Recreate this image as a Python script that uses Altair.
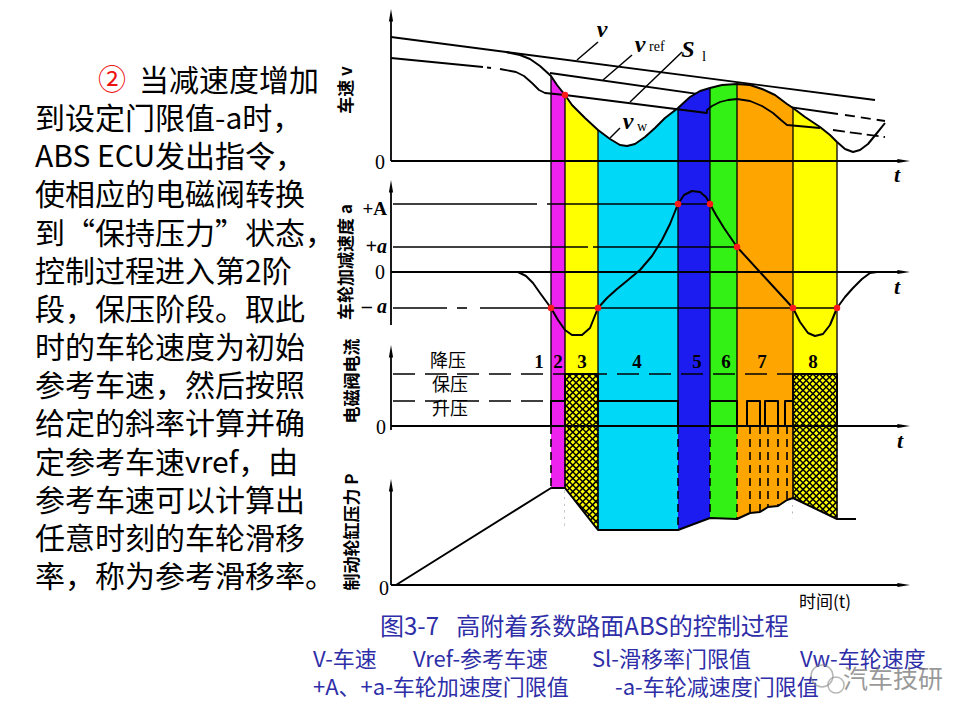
import altair as alt
import pandas as pd

# ---------------- data: time t (ms from the axis origin), values in panel units ----------------
BAND_EDGES = [160, 174, 207, 287, 319, 346, 402, 446]
BAND_COLORS = ["#ee22ee", "#ffff00", "#00d8f8", "#1c1cf0", "#33f015", "#ffa500", "#ffff00"]
BAND_NAMES = ["1", "2", "3", "4", "5", "6", "7", "8"]
BAND_NAME_T = [148, 167, 191, 246, 306, 335, 371, 422]
HATCH_BANDS = [(174, 207), (402, 446)]

# speed panel
V_T = [0, 484]
V_VAL = [124, 61]
VREF_T = [159, 447]
VREF_VAL = [88, 47]
VREF_TAIL_T = [454, 494]
VREF_TAIL_VAL = [46, 40]
VW_T = [115, 129, 139, 149, 160, 166, 174, 181, 194, 207, 219, 229, 236, 244, 254, 264, 274, 287, 299, 309,
        319, 331, 346, 359, 371, 384, 396, 402, 414, 429, 439, 446, 454, 462, 469, 477, 486, 494]
VW_VAL = [109, 106, 102, 95, 85, 76, 66, 56, 43, 31, 22, 16, 15, 17, 24, 33, 43, 53, 64, 70,
          73, 76, 77, 76, 72, 66, 57, 53, 44, 34, 26, 19, 12, 9, 11, 17, 28, 38]
S1_A_T = [0, 92]
S1_A_VAL = [103, 94]
S1_DOT_T = [96, 100]
S1_DOT_VAL = [93.5, 93]
S1_T = [109, 125, 133, 141, 148, 154, 174, 316, 316, 321, 329, 337, 346, 359, 371, 382, 390, 396, 429]
S1_VAL = [92, 89, 85, 78, 71, 68, 66, 48, 51, 55, 59, 61, 62, 60, 55, 48, 41, 36, 33]
S1_TAIL_T = [442, 494]
S1_TAIL_VAL = [31, 24]
SPEED_DOT_T = [174]
SPEED_DOT_VAL = [66]

# acceleration panel
ACC_T = [127, 135, 142, 149, 160, 167, 174, 181, 191, 199, 207, 216, 226, 237, 249, 261, 271, 279, 287, 293,
         301, 309, 315, 319, 325, 333, 346, 402, 409, 417, 424, 432, 439, 446, 454, 462, 471, 479, 486]
ACC_VAL = [0, -4, -11, -21, -36, -48, -58, -63, -63, -56, -36, -26, -17, -8, 2, 16, 32, 48, 68, 77,
           81, 80, 75, 68, 57, 44, 25, -36, -50, -61, -64, -62, -53, -36, -25, -16, -7, -1, 0]
ACC_DOT_T = [160, 207, 287, 319, 346, 402, 446]
ACC_DOT_VAL = [-36, -36, 68, 68, 25, -36, -36]
ACC_LEVELS = [68, 25, -36]
ACC_LEVEL_SEGS = [[(2, 146), (156, 319)], [(2, 197), (202, 346)], [(2, 56), (66, 76), (89, 446)]]

# valve current panel
CUR_REDUCE, CUR_HOLD = 52, 25
CUR_T = [160, 160, 174, 174, 207, 207, 287, 287, 319, 319, 346, 346, 356, 356, 369, 369, 374, 374,
         387, 387, 394, 394, 402, 402, 446, 446]
CUR_VAL = [0, 25, 25, 52, 52, 25, 25, 0, 0, 25, 25, 0, 0, 25, 25, 0, 0, 25,
           25, 0, 0, 25, 25, 52, 52, 0]

# brake pressure panel
P_T = [5, 160, 174, 207, 287, 319, 346, 359, 369, 377, 387, 396, 402, 446, 465]
P_VAL = [0, 97, 97, 55, 55, 67, 66, 72, 73, 78, 79, 85, 87, 66, 66]
DASH_V_T = [160, 287, 319, 346, 359, 369, 377, 387, 396]

PARA = ["当减速度增加", "到设定门限值-a时，", "ABS ECU发出指令，", "使相应的电磁阀转换",
        "到“保持压力”状态，", "控制过程进入第2阶", "段，保压阶段。取此", "时的车轮速度为初始",
        "参考车速，然后按照", "给定的斜率计算并确", "定参考车速vref，由", "参考车速可以计算出",
        "任意时刻的车轮滑移", "率，称为参考滑移率。"]
CAPTION = "图3-7\u2002 高附着系数路面ABS的控制过程"
NOTE2 = ["V-车速", "Vref-参考车速", "Sl-滑移率门限值", "Vw-车轮速度"]
NOTE3 = ["+A、+a-车轮加速度门限值", "-a-车轮减速度门限值"]

# ---------------- layout (common vertical coordinate, up positive) ----------------
B_SPD, B_ACC, B_CUR, B_P = 559, 448, 294, 135
CJK = "Noto Sans CJK SC"
SERIF = "Liberation Serif"
BLUE = "#2e2ea8"

xs = alt.Scale(domain=[-383, 561], nice=False, zero=False)
ys = alt.Scale(domain=[8, 712], nice=False, zero=False)
X = lambda f="t": alt.X(f"{f}:Q", scale=xs, axis=None)
Y = lambda f="Y": alt.Y(f"{f}:Q", scale=ys, axis=None, stack=None)

VW = dict(zip(VW_T, VW_VAL))
PP = dict(zip(P_T, P_VAL))


def poly(ts, vals, base, seg=0):
    return pd.DataFrame({"t": ts, "Y": [base + v for v in vals], "i": list(range(len(ts))), "seg": seg})


def line(df, w=2.0, dash=None, color="black"):
    kw = dict(color=color, strokeWidth=w, strokeJoin="round")
    if dash:
        kw["strokeDash"] = dash
    return alt.Chart(df).mark_line(**kw).encode(x=X(), y=Y(), detail="seg:N", order="i:Q")


def rules(rows, w=1.5, dash=None, color="black"):
    df = pd.DataFrame(rows, columns=["t", "Y", "t2", "Y2"])
    kw = dict(color=color, strokeWidth=w)
    if dash:
        kw["strokeDash"] = dash
    return alt.Chart(df).mark_rule(**kw).encode(x=X(), y=Y(), x2="t2:Q", y2="Y2:Q")


def texts(rows, **kw):
    df = pd.DataFrame(rows, columns=["t", "Y", "txt"])
    return alt.Chart(df).mark_text(**kw).encode(x=X(), y=Y(), text="txt:N")


def hatch(x0, x1, y0, y1, step):
    out = []
    c = x0 - y1
    while c <= x1 - y0:
        a, b = max(x0, y0 + c), min(x1, y1 + c)
        if b > a:
            out.append((a, a - c, b, b - c))
        c += step
    c = x0 + y0
    while c <= x1 + y1:
        a, b = max(x0, c - y1), min(x1, c - y0)
        if b > a:
            out.append((a, c - a, b, c - b))
        c += step
    return out


layers = []

# lines that the colour bands cover
layers.append(line(poly(V_T, V_VAL, B_SPD), 1.8))
layers.append(line(poly(VREF_T, VREF_VAL, B_SPD), 1.8))
layers.append(line(poly(VREF_TAIL_T, VREF_TAIL_VAL, B_SPD), 1.8, dash=[10, 6]))

# colour bands: upper part under the wheel speed, lower part above the pressure curve
top_rows, bot_rows = [], []
for k in range(len(BAND_EDGES) - 1):
    a, b = BAND_EDGES[k], BAND_EDGES[k + 1]
    for t in VW_T:
        if a <= t <= b:
            top_rows.append((t, B_SPD + VW[t], B_CUR, k, BAND_COLORS[k]))
    for t in P_T:
        if a <= t <= b:
            bot_rows.append((t, B_CUR, B_P + PP[t], k, BAND_COLORS[k]))
for rows in (top_rows, bot_rows):
    df = pd.DataFrame(rows, columns=["t", "Y", "Y2", "band", "col"])
    layers.append(alt.Chart(df).mark_area(opacity=1, strokeWidth=0).encode(
        x=X(), y=Y(), y2="Y2:Q", color=alt.Color("col:N", scale=None), detail="band:N"))

# cross hatching of the pressure-reduction phases
hrows = []
mask_rows = []
for j, (a, b) in enumerate(HATCH_BANDS):
    low = min(PP[a], PP[b])
    hrows += hatch(a, b, B_P + low, B_CUR + CUR_REDUCE, 6.6)
    for t in (a, b):
        mask_rows.append((t, B_P + PP[t], B_P + 40, j))
layers.append(rules(hrows, w=1.5))
mdf = pd.DataFrame(mask_rows, columns=["t", "Y", "Y2", "band"])
layers.append(alt.Chart(mdf).mark_area(color="white", opacity=1).encode(x=X(), y=Y(), y2="Y2:Q", detail="band:N"))
edge_rows = []
for a, b in HATCH_BANDS:
    edge_rows += [(a, B_CUR + CUR_REDUCE, a, B_P + PP[a]), (b, B_CUR + CUR_REDUCE, b, B_P + PP[b])]
layers.append(rules(edge_rows, w=1.6))

# band boundaries
layers.append(rules([(t, B_SPD + VW[t], t, B_CUR) for t in BAND_EDGES], w=1.3))
layers.append(rules([(t, B_CUR, t, B_P + PP[t]) for t in DASH_V_T], w=1.6, dash=[8, 5]))

# speed panel curves
layers.append(line(poly(VW_T, VW_VAL, B_SPD), 2.0))
layers.append(line(pd.concat([poly(S1_A_T, S1_A_VAL, B_SPD, 0), poly(S1_DOT_T, S1_DOT_VAL, B_SPD, 1),
                              poly(S1_T, S1_VAL, B_SPD, 2)]), 1.8))
layers.append(line(poly(S1_TAIL_T, S1_TAIL_VAL, B_SPD), 1.8, dash=[12, 5]))

# acceleration panel
lv = []
for val, segs in zip(ACC_LEVELS, ACC_LEVEL_SEGS):
    for a, b in segs:
        lv.append((a, B_ACC + val, b, B_ACC + val))
layers.append(rules(lv, w=1.6))
layers.append(line(poly(ACC_T, ACC_VAL, B_ACC), 2.0))

# valve current panel
layers.append(rules([(2, B_CUR + CUR_REDUCE, 402, B_CUR + CUR_REDUCE)], w=1.4, dash=[22, 10]))
layers.append(rules([(2, B_CUR + CUR_HOLD, 160, B_CUR + CUR_HOLD)], w=1.4, dash=[22, 10]))
layers.append(line(poly(CUR_T, CUR_VAL, B_CUR), 2.0))

# pressure panel
layers.append(line(poly(P_T, P_VAL, B_P), 2.0))

# axes
axes = [(0, B_SPD, 0, B_SPD + 146), (0, B_ACC - 53, 0, B_ACC + 86), (0, B_CUR - 4, 0, B_CUR + 75),
        (0, B_P, 0, B_P + 100)]
for base in (B_SPD, B_ACC, B_CUR, B_P):
    axes.append((0, base, 512, base))
layers.append(rules(axes, w=1.8))
up = pd.DataFrame({"t": [0, 0, 0, 0], "Y": [B_SPD + 145, B_ACC + 85, B_CUR + 74, B_P + 99]})
right = pd.DataFrame({"t": [512, 512, 512, 512], "Y": [B_SPD, B_ACC, B_CUR, B_P]})
layers.append(alt.Chart(up).mark_point(shape="M0,-1L0.3,0.8L-0.3,0.8Z", size=196, filled=True, color="black",
                                       opacity=1).encode(x=X(), y=Y()))
layers.append(alt.Chart(right).mark_point(shape="M1,0L-0.8,0.3L-0.8,-0.3Z", size=196, filled=True, color="black",
                                          opacity=1).encode(x=X(), y=Y()))

# red threshold-crossing points
dots = pd.concat([poly(SPEED_DOT_T, SPEED_DOT_VAL, B_SPD), poly(ACC_DOT_T, ACC_DOT_VAL, B_ACC)])
layers.append(alt.Chart(dots).mark_circle(color="#ff1a1a", size=42, opacity=1).encode(x=X(), y=Y()))

# leader lines of the curve names
layers.append(rules([(207, 678, 186, 660), (241, 665, 212, 640), (291, 668, 239, 618), (229, 592, 219, 582)],
                    w=1.5))

# curve names
layers.append(texts([(211, 690, "v"), (249, 675, "v"), (297, 670, "S"), (237, 598, "v")],
                    font=SERIF, fontSize=24, fontStyle="italic", fontWeight="bold", baseline="middle"))
layers.append(texts([(258, 673, "ref"), (246, 593, "w")], font=SERIF, fontSize=14, align="left",
                    baseline="middle"))
layers.append(texts([(311, 664, "l")], font=SERIF, fontSize=15, align="left", baseline="middle"))

# tick labels
layers.append(texts([(-11, 557, "0"), (-11, 447, "0"), (-10, 292, "0"), (-7, 131, "0")],
                    font=SERIF, fontSize=20, baseline="middle"))
layers.append(texts([(-4, 511, "+A")], font=SERIF, fontSize=19, fontWeight="bold", align="right",
                    baseline="middle"))
layers.append(texts([(-4, 473, "+a"), (-4, 413, "– a")], font=SERIF, fontSize=20, fontStyle="italic",
                    fontWeight="bold", align="right", baseline="middle"))
layers.append(texts([(506, 545, "t"), (506, 433, "t"), (509, 279, "t")], font=SERIF, fontSize=22,
                    fontStyle="italic", fontWeight="bold", baseline="middle"))
layers.append(texts([(434, 117, "时间(t)")], font=CJK, fontSize=17, baseline="middle"))
layers.append(texts([(57, 358, "降压"), (59, 334, "保压"), (59, 310, "升压")], font=CJK, fontSize=18,
                    baseline="middle"))
layers.append(texts(list(zip(BAND_NAME_T, [358] * 8, BAND_NAMES)), font=SERIF, fontSize=19,
                    fontWeight="bold", baseline="middle"))

# axis titles
layers.append(texts([(-44, 630, "车速 v"), (-44, 458, "车轮加减速度 a"), (-38, 339, "电磁阀电流"),
                     (-38, 188, "制动轮缸压力 P")], font=CJK, fontSize=17, fontWeight="bold", angle=270,
                    baseline="middle"))

# paragraph on the left
prow = [(-252 if i == 0 else -356, 638 - 38.15 * i, s) for i, s in enumerate(PARA)]
layers.append(texts(prow, font=CJK, fontSize=30, align="left", baseline="middle", color="black"))
layers.append(texts([(-279, 638, "②")], font=CJK, fontSize=28, baseline="middle", color="#ee1111"))

# caption and notes
layers.append(texts([(-11, 92, CAPTION)], font=CJK, fontSize=24, align="left", baseline="middle", color=BLUE))
layers.append(texts(list(zip([-78, 22, 201, 409], [60] * 4, NOTE2)), font=CJK, fontSize=22, align="left",
                    baseline="middle", color=BLUE))
layers.append(texts(list(zip([-78, 224], [32] * 2, NOTE3)), font=CJK, fontSize=22, align="left",
                    baseline="middle", color=BLUE))

# watermark
wm = pd.DataFrame({"t": [431, 445], "Y": [44, 35], "s": [480, 260]})
layers.append(alt.Chart(wm).mark_point(shape="circle", color="#888888", strokeWidth=1.5, opacity=0.6).encode(
    x=X(), y=Y(), size=alt.Size("s:Q", scale=None)))
layers.append(texts([(452, 40, "汽车技研")], font=CJK, fontSize=25, align="left", baseline="middle",
                    color="#777777", opacity=0.75))

chart = alt.layer(*layers).properties(
    width=944, height=704, padding=0, autosize=alt.AutoSizeParams(type="none")
).configure_view(stroke=None)

chart.save("out.html", embed_options={"renderer": "svg", "actions": False})
